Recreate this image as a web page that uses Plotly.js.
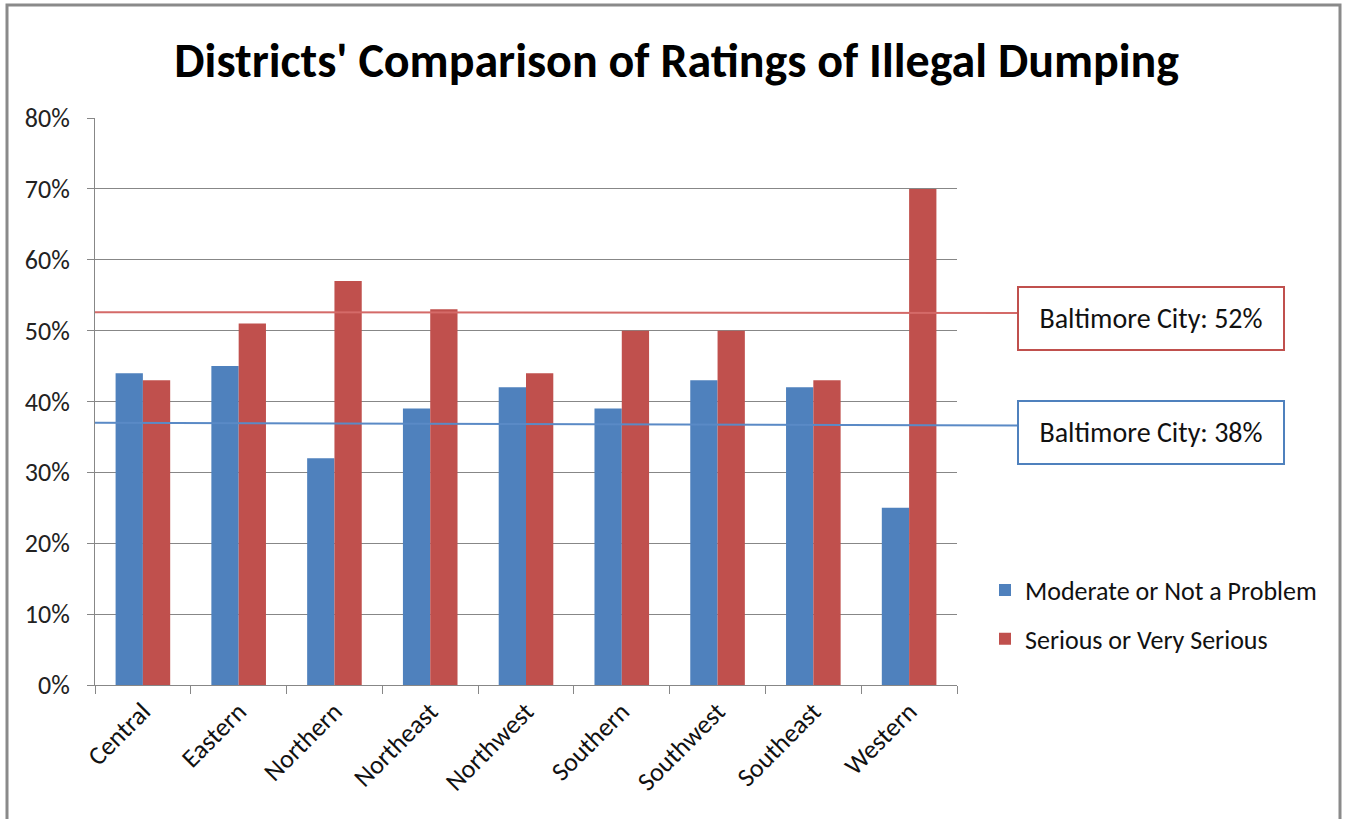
<!DOCTYPE html>
<html>
<head>
<meta charset="utf-8">
<script src="https://cdn.plot.ly/plotly-3.0.1.min.js"></script>
<style>html,body{margin:0;padding:0;background:#fff;}#chart{width:1348px;height:819px;}</style>
</head>
<body>
<div id="chart"></div>
<script>
const districts = ["Central","Eastern","Northern","Northeast","Northwest","Southern","Southwest","Southeast","Western"];
const moderate = [0.44,0.45,0.32,0.39,0.42,0.39,0.43,0.42,0.25];
const serious = [0.43,0.51,0.57,0.53,0.44,0.50,0.50,0.43,0.70];
const seriesNames = ["Moderate or Not a Problem","Serious or Very Serious"];
const cityLabels = ["Baltimore City: 52%","Baltimore City: 38%"];
// drawn reference line levels (start, end) as seen in the picture
const cityLineStart = [0.526, 0.370];
const cityLineEnd = [0.525, 0.366];
const yTickVals = [0,0.1,0.2,0.3,0.4,0.5,0.6,0.7,0.8];

const FONT = "Carlito, 'Liberation Sans Narrow', 'Open Sans', sans-serif";
const blue = "#4f81bd", red = "#c0504d";
const grid = "#878787";

const traces = [
  {type:"bar", x:districts, y:moderate, name:seriesNames[0], marker:{color:blue}, legendgroup:"a"},
  {type:"bar", x:districts, y:serious, name:seriesNames[1], marker:{color:red}, legendgroup:"b"}
];

const boxX = 1.2251;
const layout = {
  width:1348, height:819,
  margin:{l:95, r:391, t:118, b:134},
  paper_bgcolor:"#fff", plot_bgcolor:"#fff",
  barmode:"group", bargap:0.43, bargroupgap:0,
  font:{family:FONT, color:"#222", size:26},
  title:{text:"Districts' Comparison of Ratings of Illegal Dumping", font:{family:FONT, size:48, color:"#000", weight:"bold"},
         xref:"container", x:0.502, xanchor:"center", yref:"container", y:1-60/819, yanchor:"middle"},
  xaxis:{type:"category", tickangle:-45, ticks:"outside", tickson:"boundaries", ticklen:8, tickcolor:grid,
         showline:true, linecolor:grid, linewidth:1, tickfont:{size:26, color:"#111"}, showgrid:false},
  yaxis:{range:[0,0.8], tickvals:yTickVals, tickformat:".0%", ticks:"outside", ticklen:7, tickcolor:grid,
         showline:true, linecolor:grid, showgrid:true, gridcolor:grid, gridwidth:1, zeroline:false,
         tickfont:{size:26, color:"#222"}, ticklabelstandoff:12},
  showlegend:true,
  legend:{x:(985-95)/862, xanchor:"left", y:0.209, yanchor:"top", font:{size:26, color:"#111"}, tracegroupgap:12, traceorder:"grouped", bgcolor:"rgba(0,0,0,0)"},
  shapes:[
    {type:"line", xref:"paper", yref:"y", x0:0, x1:(1018-95)/862, y0:cityLineStart[0], y1:cityLineEnd[0], line:{color:"#d46a68", width:2}},
    {type:"line", xref:"paper", yref:"y", x0:0, x1:(1018-95)/862, y0:cityLineStart[1], y1:cityLineEnd[1], line:{color:"#5a8ac6", width:2}},
    {type:"rect", xref:"paper", yref:"paper", x0:(7-95)/862, x1:(1340-95)/862, y0:-0.4, y1:(685-5)/567, line:{color:"#8a8a8a", width:3}, fillcolor:"rgba(0,0,0,0)", layer:"below"}
  ],
  annotations:[
    {xref:"paper", yref:"paper", x:boxX, y:(685-318.5)/567, text:cityLabels[0], showarrow:false, width:264, height:61,
     bordercolor:red, borderwidth:2, borderpad:0, bgcolor:"#fff", font:{size:28, color:"#111"}, xanchor:"center", yanchor:"middle"},
    {xref:"paper", yref:"paper", x:boxX, y:(685-432.5)/567, text:cityLabels[1], showarrow:false, width:264, height:61,
     bordercolor:blue, borderwidth:2, borderpad:0, bgcolor:"#fff", font:{size:28, color:"#111"}, xanchor:"center", yanchor:"middle"}
  ]
};
Plotly.newPlot("chart", traces, layout, {displayModeBar:false, staticPlot:true});
</script>
</body>
</html>
